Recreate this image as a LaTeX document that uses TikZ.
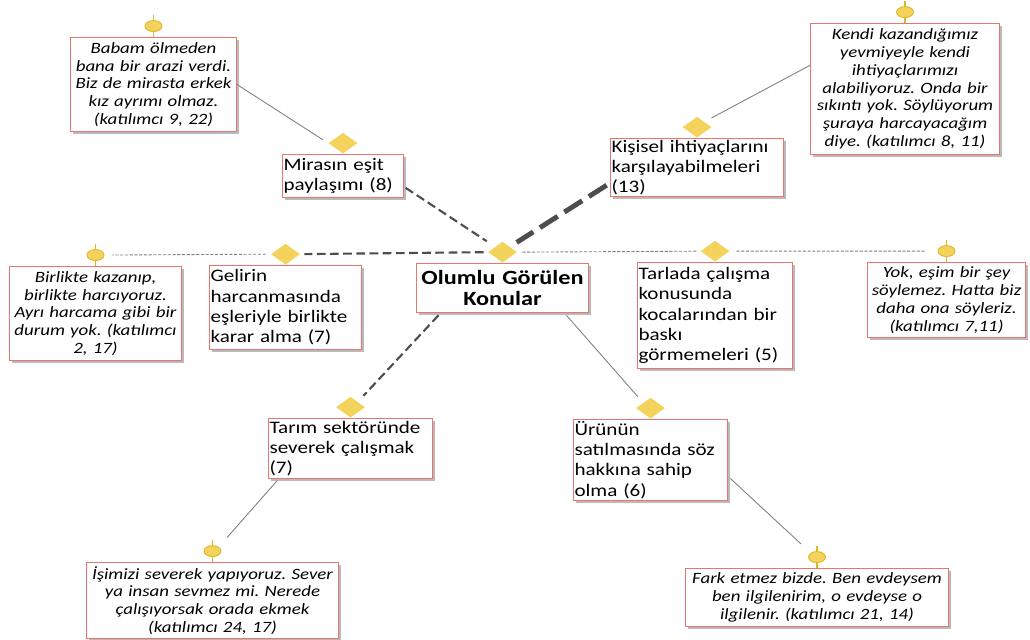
\documentclass[tikz,border=0pt]{standalone}
\usepackage{fontspec}
\setmainfont{Carlito}[FakeStretch=1.2]
\usetikzlibrary{positioning,shapes.geometric,shadows}

\definecolor{boxred}{HTML}{E8766C}
\definecolor{markyellow}{HTML}{F3D35B}
\definecolor{pinedge}{HTML}{E2B52A}
\definecolor{linkgray}{HTML}{808080}
\definecolor{linkdark}{HTML}{4D4D4D}

\tikzset{
  box/.style = { shape=rectangle, draw=boxred, line width=0.6pt, fill=white, inner xsep=0.02cm, inner ysep=0.03cm, anchor=north west, drop shadow={shadow xshift=0.05cm, shadow yshift=-0.05cm, fill=black!45, opacity=0.6} },
  quote/.style = { box, align=center, font=\fontsize{8.95}{10.1}\selectfont\itshape },
  topic/.style = { box, align=left, font=\fontsize{10}{11.6}\selectfont },
  centrebox/.style = { box, align=center, font=\fontsize{11.5}{12.4}\selectfont\bfseries },
  diamondmark/.style = { shape=diamond, fill=markyellow, inner sep=0pt, minimum width=0.58cm, minimum height=0.42cm },
  pinmark/.style = { shape=ellipse, fill=markyellow, draw=pinedge, line width=0.5pt, inner sep=0pt, minimum width=0.34cm, minimum height=0.22cm },
  pinstem/.style = { draw=pinedge, line width=1pt },
  thinlink/.style = { draw=linkgray, line width=0.5pt },
  finelink/.style = { draw=linkgray, line width=0.5pt, dash pattern=on 1.8pt off 0.9pt },
  dashlink/.style = { draw=linkdark, line width=1.2pt, dash pattern=on 5pt off 2.5pt },
  heavylink/.style = { draw=linkdark, line width=2.8pt, dash pattern=on 12pt off 4.5pt }
}
\frenchspacing

\begin{document}
\begin{tikzpicture}[ x=0.02cm, y=-0.02cm ]
  \useasboundingbox (0,0) rectangle (1030,639);

  \node (nCentre) [ centrebox, text width=3.40cm, minimum height=0.98cm ] at (416,263) {Olumlu Görülen\\Konular};
  \node (dCentre) [ diamondmark, above = 0cm of nCentre ] {};

  \node (nMiras) [ topic, text width=2.38cm, minimum height=0.86cm ] at (282,154) {Mirasın eşit\\paylaşımı (8)};
  \node (dMiras) [ diamondmark, above = 0cm of nMiras ] {};
  \node (nKisisel) [ topic, text width=3.42cm, minimum height=1.16cm ] at (610,138) {Kişisel ihtiyaçlarını\\karşılayabilmeleri\\(13)};
  \node (dKisisel) [ diamondmark, above = 0cm of nKisisel ] {};
  \node (nGelir) [ topic, text width=3.00cm, minimum height=1.68cm ] at (209,265) {Gelirin\\harcanmasında\\eşleriyle birlikte\\karar alma (7)};
  \node (dGelir) [ diamondmark, above = 0cm of nGelir ] {};
  \node (nTarla) [ topic, text width=3.06cm, minimum height=2.12cm ] at (637,262) {Tarlada çalışma\\konusunda\\kocalarından bir\\baskı\\görmemeleri (5)};
  \node (dTarla) [ diamondmark, above = 0cm of nTarla ] {};
  \node (nTarim) [ topic, text width=3.24cm, minimum height=1.20cm ] at (268,418) {Tarım sektöründe\\severek çalışmak\\(7)};
  \node (dTarim) [ diamondmark, above = 0cm of nTarim ] {};
  \node (nUrun) [ topic, text width=3.04cm, minimum height=1.52cm ] at (573,419) {Ürünün\\satılmasında söz\\hakkına sahip\\olma (6)};
  \node (dUrun) [ diamondmark, above = 0cm of nUrun ] {};

  \node (nBabam) [ quote, text width=3.28cm, minimum height=1.88cm ] at (70,37) {Babam ölmeden\\bana bir arazi verdi.\\Biz de mirasta erkek\\kız ayrımı olmaz.\\(katılımcı 9, 22)};
  \draw [pinstem] (nBabam.north) -- ++(0,-22);
  \node (pBabam) [ pinmark, above = 0.1cm of nBabam ] {};
  \node (nKendi) [ quote, text width=3.74cm, minimum height=2.62cm ] at (810,23) {Kendi kazandığımız\\yevmiyeyle kendi\\ihtiyaçlarımızı\\alabiliyoruz. Onda bir\\sıkıntı yok. Söylüyorum\\şuraya harcayacağım\\diye. (katılımcı 8, 11)};
  \draw [pinstem] (nKendi.north) -- ++(0,-22);
  \node (pKendi) [ pinmark, above = 0.1cm of nKendi ] {};
  \node (nBirlikte) [ quote, text width=3.40cm, minimum height=1.88cm ] at (9,266) {Birlikte kazanıp,\\birlikte harcıyoruz.\\Ayrı harcama gibi bir\\durum yok. (katılımcı\\2, 17)};
  \draw [pinstem] (nBirlikte.north) -- ++(0,-22);
  \node (pBirlikte) [ pinmark, above = 0.1cm of nBirlikte ] {};
  \node (nYok) [ quote, text width=3.12cm, minimum height=1.50cm ] at (867,262) {Yok, eşim bir şey\\söylemez. Hatta biz\\daha ona söyleriz.\\(katılımcı 7,11)};
  \draw [pinstem] (nYok.north) -- ++(0,-22);
  \node (pYok) [ pinmark, above = 0.1cm of nYok ] {};
  \node (nIsimizi) [ quote, text width=5.00cm, minimum height=1.52cm ] at (86,562) {İşimizi severek yapıyoruz. Sever\\ya insan sevmez mi. Nerede\\çalışıyorsak orada ekmek\\(katılımcı 24, 17)};
  \draw [pinstem] (nIsimizi.north) -- ++(0,-22);
  \node (pIsimizi) [ pinmark, above = 0.1cm of nIsimizi ] {};
  \node (nFark) [ quote, text width=5.22cm, minimum height=1.16cm ] at (685,568) {Fark etmez bizde. Ben evdeysem\\ben ilgilenirim, o evdeyse o\\ilgilenir. (katılımcı 21, 14)};
  \draw [pinstem] (nFark.north) -- ++(0,-22);
  \node (pFark) [ pinmark, above = 0.1cm of nFark ] {};

  \draw [thinlink, shorten >= 0.12cm] (nBabam.east) -- (dMiras.west);
  \draw [dashlink, shorten <= 0.04cm, shorten >= 0.2cm] (nMiras.-10) -- (dCentre.north west);
  \draw [heavylink, shorten <= 0.08cm, shorten >= 0.16cm] (nKisisel.190) -- (dCentre.north east);
  \draw [thinlink, shorten >= 0.16cm] (nKendi.166) -- (dKisisel.north east);
  \draw [dashlink, shorten <= 0.08cm, shorten >= 0.08cm] (dCentre.west) -- (dGelir.east);
  \draw [finelink, shorten <= 0.1cm, shorten >= 0.16cm] (dGelir.west) -- (pBirlikte.east);
  \draw [finelink, shorten <= 0.1cm, shorten >= 0.04cm] (dCentre.east) -- (dTarla.west);
  \draw [finelink, shorten <= 0.13cm, shorten >= 0.23cm] (dTarla.east) -- (pYok.west);
  \draw [dashlink, shorten <= 0.06cm, shorten >= 0.16cm] (nCentre.202) -- (dTarim.north east);
  \draw [thinlink, shorten <= 0.06cm, shorten >= 0.16cm] (nCentre.-22) -- (dUrun.north west);
  \draw [thinlink, shorten <= 0.04cm, shorten >= 0.25cm] (nTarim.203) -- (pIsimizi.north east);
  \draw [thinlink, shorten <= 0.06cm, shorten >= 0.26cm] (nUrun.-12) -- (pFark.north west);
\end{tikzpicture}
\end{document}
